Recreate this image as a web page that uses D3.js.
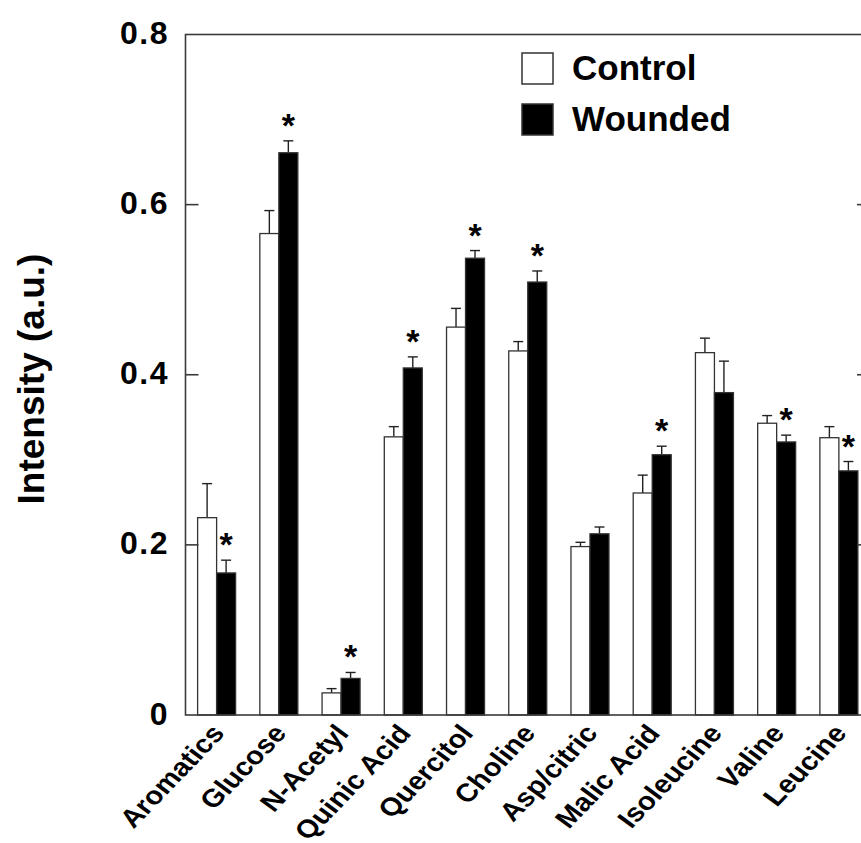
<!DOCTYPE html>
<html>
<head>
<meta charset="utf-8">
<script src="https://cdn.jsdelivr.net/npm/d3@7"></script>
<style>
  html, body { margin: 0; padding: 0; background: #fff; }
  svg { display: block; }
  text { font-family: "Liberation Sans", Arial, Helvetica, sans-serif; font-weight: bold; fill: #000; }
</style>
</head>
<body>
<svg id="chart" width="861" height="843"></svg>
<script>
// Metabolite intensities, control vs. wounded (mean and upper SE)
const categories = ["Aromatics", "Glucose", "N-Acetyl", "Quinic Acid", "Quercitol", "Choline",
                    "Asp/citric", "Malic Acid", "Isoleucine", "Valine", "Leucine"];
const controlMean  = [0.232, 0.566, 0.026, 0.327, 0.456, 0.428, 0.198, 0.261, 0.426, 0.343, 0.326];
const controlErr   = [0.040, 0.027, 0.005, 0.012, 0.022, 0.011, 0.005, 0.021, 0.017, 0.009, 0.013];
const woundedMean  = [0.167, 0.661, 0.043, 0.408, 0.537, 0.509, 0.213, 0.306, 0.379, 0.321, 0.287];
const woundedErr   = [0.015, 0.014, 0.007, 0.013, 0.009, 0.013, 0.008, 0.010, 0.037, 0.008, 0.011];
const significant  = [true, true, true, true, true, true, false, true, false, true, true];
const yTicks = [0, 0.2, 0.4, 0.6, 0.8];
const yTickLabels = ["0", "0.2", "0.4", "0.6", "0.8"];
const seriesNames = ["Control", "Wounded"];

const svg = d3.select("#chart");
const plotL = 185.5, plotR = 870, plotT = 34.5, plotB = 715;
const axisColor = "#3a3a3a";

const x = d3.scaleBand().domain(categories).range([plotL, plotR]).paddingInner(0).paddingOuter(0);
const y = d3.scaleLinear().domain([0, 0.8]).range([plotB, plotT]);
const barW = 19;

const rows = categories.map((c, i) => ({
  cat: c,
  bars: [
    { key: "Control", v: controlMean[i], e: controlErr[i], fill: "#fff", off: -barW },
    { key: "Wounded", v: woundedMean[i], e: woundedErr[i], fill: "#000", off: 0 }
  ],
  sig: significant[i]
}));

const groups = svg.append("g").selectAll("g.cat")
  .data(rows).join("g")
  .attr("class", "cat")
  .attr("transform", d => `translate(${x(d.cat) + x.bandwidth() / 2},0)`);

// error whiskers (upper only)
groups.selectAll("g.err").data(d => d.bars).join("g").attr("class", "err").each(function (b) {
  const g = d3.select(this);
  const cx = b.off + barW / 2;
  g.append("line").attr("x1", cx).attr("x2", cx).attr("y1", y(b.v)).attr("y2", y(b.v + b.e))
    .attr("stroke", "#222").attr("stroke-width", 1.4);
  g.append("line").attr("x1", cx - 5).attr("x2", cx + 5).attr("y1", y(b.v + b.e)).attr("y2", y(b.v + b.e))
    .attr("stroke", "#222").attr("stroke-width", 1.4);
});

// bars
groups.selectAll("rect.bar").data(d => d.bars).join("rect")
  .attr("class", "bar")
  .attr("x", b => b.off)
  .attr("width", barW)
  .attr("y", b => y(b.v))
  .attr("height", b => y(0) - y(b.v))
  .attr("fill", b => b.fill)
  .attr("stroke", "#333")
  .attr("stroke-width", 1.3);

// significance markers above the wounded bars
groups.filter(d => d.sig).append("text")
  .attr("x", barW / 2)
  .attr("y", d => y(d.bars[1].v + d.bars[1].e) - 4)
  .attr("text-anchor", "middle")
  .attr("font-size", 34)
  .text("*");

// frame
svg.append("rect")
  .attr("x", plotL).attr("y", plotT)
  .attr("width", plotR - plotL).attr("height", plotB - plotT)
  .attr("fill", "none").attr("stroke", axisColor).attr("stroke-width", 1.6);

// inward ticks on left and right
svg.append("g").selectAll("line").data(yTicks.slice(1, -1)).join("line")
  .attr("x1", plotL).attr("x2", plotL + 13)
  .attr("y1", d => y(d)).attr("y2", d => y(d))
  .attr("stroke", axisColor).attr("stroke-width", 1.6);
svg.append("g").selectAll("line").data(yTicks.slice(1, -1)).join("line")
  .attr("x1", plotR - 13).attr("x2", plotR)
  .attr("y1", d => y(d)).attr("y2", d => y(d))
  .attr("stroke", axisColor).attr("stroke-width", 1.6);

// y tick labels
svg.append("g").selectAll("text").data(yTicks).join("text")
  .attr("x", 169)
  .attr("y", d => y(d))
  .attr("dy", "0.3em")
  .attr("text-anchor", "end")
  .attr("font-size", 32)
  .attr("letter-spacing", 1.5)
  .text((d, i) => yTickLabels[i]);

// y axis title
svg.append("text")
  .attr("transform", "translate(44,379) rotate(-90)")
  .attr("text-anchor", "middle")
  .attr("font-size", 37)
  .text("Intensity (a.u.)");

// category labels (slanted, slightly widened)
svg.append("g").selectAll("text").data(categories).join("text")
  .attr("transform", d => `translate(${x(d) + x.bandwidth() / 2 + 9},734) scale(1.15,1) rotate(-50)`)
  .attr("text-anchor", "end")
  .attr("font-size", 25.5)
  .text(d => d);

// legend
const legend = svg.append("g");
seriesNames.forEach((name, i) => {
  legend.append("rect")
    .attr("x", 522).attr("y", 53 + i * 51)
    .attr("width", 31).attr("height", 31)
    .attr("fill", i === 0 ? "#fff" : "#000")
    .attr("stroke", "#333").attr("stroke-width", 1.5);
  legend.append("text")
    .attr("x", 572).attr("y", 80 + i * 51)
    .attr("font-size", 35)
    .text(name);
});
</script>
</body>
</html>
